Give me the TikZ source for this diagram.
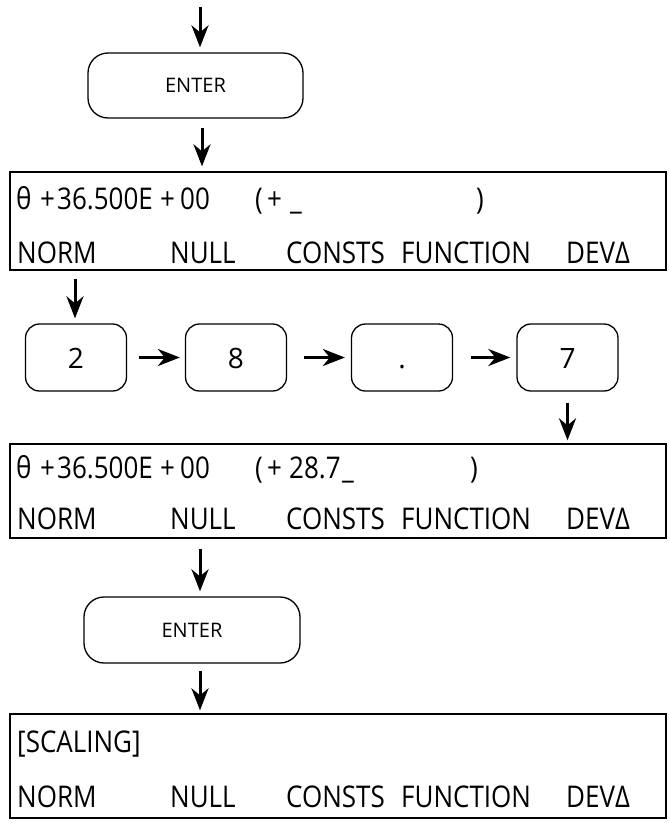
\documentclass[tikz,border=0pt]{standalone}
\usepackage{fontspec}
\usepackage{graphicx}
\setmainfont{Open Sans}
\usetikzlibrary{arrows.meta}
\newcommand\vtall[1]{\scalebox{1}[1.15]{#1}}
\begin{document}
\begin{tikzpicture}[x=1pt,y=-1pt,
  disp/.style={draw,line width=1.3pt,minimum width=656pt,inner sep=0pt},
  keybox/.style={draw,line width=1.3pt,rounded corners=14pt,minimum width=101pt,minimum height=67pt,inner sep=0pt,text height=22pt,text depth=0pt,font=\fontsize{28}{30}\selectfont},
  enterbox/.style={draw,line width=1.3pt,rounded corners=20pt,inner sep=0pt,font=\fontsize{20}{22}\selectfont},
  dtext/.style={anchor=base west,inner sep=0pt,font=\fontsize{26}{28}\selectfont},
  arr/.style={line width=3pt,-{Stealth[length=22pt,width=17pt,inset=7pt]}}
]
\useasboundingbox (0,0) rectangle (669,825);

% top ENTER
\coordinate (top) at (200,7);
\node[enterbox,minimum width=215pt,minimum height=65pt] (enter1) at (195.5,85.5) {ENTER};

% display 1
\node[disp,minimum height=98pt] (disp1) at (338,221) {};
\node[dtext] (a1) at (16,209) {\vtall{θ}};
\node[dtext] (a2) at (40,209) {\vtall{+}};
\node[dtext] (a3) at (57,209) {\vtall{36.500E}};
\node[dtext] (a4) at (160,209) {\vtall{+}};
\node[dtext] (a5) at (180,209) {\vtall{00}};
\node[dtext] (a6) at (255,209) {\vtall{(}};
\node[dtext] (a7) at (267,209) {\vtall{+}};
\node[dtext] (a8) at (290,209) {\vtall{\_}};
\node[dtext] (a9) at (476,209) {\vtall{)}};
\node[dtext] (b1) at (17,263) {\vtall{NORM}};
\node[dtext] (b2) at (170,263) {\vtall{NULL}};
\node[dtext] (b3) at (286,263) {\vtall{CONSTS}};
\node[dtext] (b4) at (401,263) {\vtall{FUNCTION}};
\node[dtext] (b5) at (566,263) {\vtall{DEVΔ}};

% keys
\node[keybox] (k1) at (76,357.5) {2};
\node[keybox] (k2) at (236,357.5) {8};
\node[keybox] (k3) at (402,357.5) {.};
\node[keybox] (k4) at (567.5,357.5) {7};

% display 2
\node[disp,minimum height=94pt] (disp2) at (338,491) {};
\node[dtext] (c1) at (16,478) {\vtall{θ}};
\node[dtext] (c2) at (40,478) {\vtall{+}};
\node[dtext] (c3) at (57,478) {\vtall{36.500E}};
\node[dtext] (c4) at (160,478) {\vtall{+}};
\node[dtext] (c5) at (180,478) {\vtall{00}};
\node[dtext] (c6) at (255,478) {\vtall{(}};
\node[dtext] (c7) at (267,478) {\vtall{+}};
\node[dtext] (c8) at (289,478) {\vtall{28.7}};
\node[dtext] (c9) at (342,478) {\vtall{\_}};
\node[dtext] (c10) at (470,478) {\vtall{)}};
\node[dtext] (e1) at (17,529) {\vtall{NORM}};
\node[dtext] (e2) at (170,529) {\vtall{NULL}};
\node[dtext] (e3) at (286,529) {\vtall{CONSTS}};
\node[dtext] (e4) at (401,529) {\vtall{FUNCTION}};
\node[dtext] (e5) at (566,529) {\vtall{DEVΔ}};

% second ENTER
\node[enterbox,minimum width=216pt,minimum height=66pt] (enter2) at (192,630) {ENTER};

% display 3
\node[disp,minimum height=104pt] (disp3) at (338,766) {};
\node[dtext] (f1) at (17,752) {\vtall{[SCALING]}};
\node[dtext] (g1) at (17,807) {\vtall{NORM}};
\node[dtext] (g2) at (170,807) {\vtall{NULL}};
\node[dtext] (g3) at (286,807) {\vtall{CONSTS}};
\node[dtext] (g4) at (401,807) {\vtall{FUNCTION}};
\node[dtext] (g5) at (566,807) {\vtall{DEVΔ}};

% connectors
\draw[arr,shorten >=5pt] (top) -- (top |- enter1.north);
\draw[arr,shorten <=9pt,shorten >=5pt] ([xshift=6.5pt]enter1.south) -- ([xshift=6.5pt]enter1.south |- disp1.north);
\draw[arr,shorten <=8pt,shorten >=5pt] ([xshift=-1pt]k1.north |- disp1.south) -- ([xshift=-1pt]k1.north);
\draw[arr,shorten <=12pt,shorten >=5pt] (k1.east) -- (k2.west);
\draw[arr,shorten <=17pt,shorten >=6pt] (k2.east) -- (k3.west);
\draw[arr,shorten <=18pt,shorten >=6pt] (k3.east) -- (k4.west);
\draw[arr,shorten <=11pt,shorten >=3pt] (k4.south) -- (k4.south |- disp2.north);
\draw[arr,shorten <=10pt,shorten >=5pt] ([xshift=8pt]enter2.north |- disp2.south) -- ([xshift=8pt]enter2.north);
\draw[arr,shorten <=7pt,shorten >=3pt] ([xshift=8pt]enter2.south) -- ([xshift=8pt]enter2.south |- disp3.north);
\end{tikzpicture}
\end{document}
